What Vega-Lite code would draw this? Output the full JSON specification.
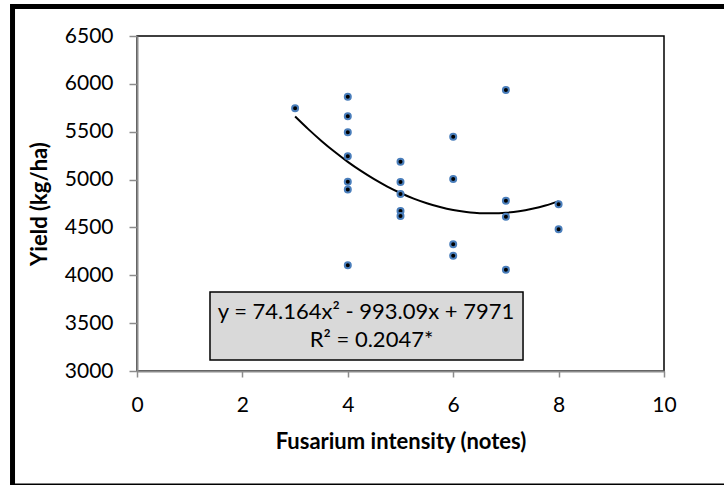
{
  "$schema": "https://vega.github.io/schema/vega-lite/v6.json",
  "width": 527,
  "height": 335,
  "autosize": {"type": "none"},
  "padding": {"left": 137, "top": 36, "right": 60, "bottom": 114},
  "background": "white",
  "config": {
    "font": "Lato",
    "view": {"stroke": "#000000", "strokeWidth": 1.5},
    "axis": {
      "domainColor": "#8c8c8c",
      "domainWidth": 2,
      "tickColor": "#8c8c8c",
      "tickWidth": 1.5,
      "grid": false,
      "labelFont": "Lato",
      "labelFontSize": 21,
      "labelColor": "#000000",
      "titleFont": "Lato",
      "titleFontSize": 22,
      "titleFontWeight": "bold",
      "titleColor": "#000000"
    }
  },
  "datasets": {
    "points": [
      {"notes": 3, "yield": 5744},
      {"notes": 4, "yield": 5866},
      {"notes": 4, "yield": 5661},
      {"notes": 4, "yield": 5494},
      {"notes": 4, "yield": 5243},
      {"notes": 4, "yield": 4978},
      {"notes": 4, "yield": 4895},
      {"notes": 4, "yield": 4104},
      {"notes": 5, "yield": 5187},
      {"notes": 5, "yield": 4975},
      {"notes": 5, "yield": 4849},
      {"notes": 5, "yield": 4672},
      {"notes": 5, "yield": 4619},
      {"notes": 6, "yield": 5448},
      {"notes": 6, "yield": 5006},
      {"notes": 6, "yield": 4323},
      {"notes": 6, "yield": 4205},
      {"notes": 7, "yield": 5936},
      {"notes": 7, "yield": 4780},
      {"notes": 7, "yield": 4612},
      {"notes": 7, "yield": 4059},
      {"notes": 8, "yield": 4741},
      {"notes": 8, "yield": 4480}
    ],
    "trend": [
      {"notes": 3, "yield": 5659},
      {"notes": 3.25, "yield": 5527},
      {"notes": 3.5, "yield": 5404},
      {"notes": 3.75, "yield": 5290},
      {"notes": 4, "yield": 5185},
      {"notes": 4.25, "yield": 5090},
      {"notes": 4.5, "yield": 5004},
      {"notes": 4.75, "yield": 4927},
      {"notes": 5, "yield": 4860},
      {"notes": 5.25, "yield": 4801},
      {"notes": 5.5, "yield": 4753},
      {"notes": 5.75, "yield": 4713},
      {"notes": 6, "yield": 4682},
      {"notes": 6.25, "yield": 4661},
      {"notes": 6.5, "yield": 4649},
      {"notes": 6.75, "yield": 4647},
      {"notes": 7, "yield": 4653},
      {"notes": 7.25, "yield": 4669},
      {"notes": 7.5, "yield": 4695},
      {"notes": 7.75, "yield": 4729},
      {"notes": 8, "yield": 4773}
    ],
    "box": [
      {"x1": 1.385, "x2": 7.325, "y1": 3115, "y2": 3825}
    ],
    "labels": [
      {"x": 4.345, "y": 3616, "text": "y = 74.164x² - 993.09x + 7971"},
      {"x": 4.45, "y": 3324, "text": "R² = 0.2047*"}
    ]
  },
  "layer": [
    {
      "data": {"values": [{}]},
      "mark": {"type": "rect", "fill": null, "stroke": "#000000", "strokeWidth": 5, "clip": false},
      "encoding": {
        "x": {"datum": -2.362, "type": "quantitative", "scale": {"domain": [0, 10]}},
        "x2": {"datum": 11.2},
        "y": {"datum": 6808, "type": "quantitative", "scale": {"domain": [3000, 6500]}},
        "y2": {"datum": 1798}
      }
    },
    {
      "data": {"name": "box"},
      "mark": {"type": "rect", "fill": "#d9d9d9", "stroke": "#000000", "strokeWidth": 1.5},
      "encoding": {
        "x": {"field": "x1", "type": "quantitative", "scale": {"domain": [0, 10]}},
        "x2": {"field": "x2"},
        "y": {"field": "y1", "type": "quantitative", "scale": {"domain": [3000, 6500]}},
        "y2": {"field": "y2"}
      }
    },
    {
      "data": {"name": "labels"},
      "mark": {"type": "text", "font": "Lato", "fontSize": 22, "color": "#000000", "align": "center", "baseline": "middle"},
      "encoding": {
        "x": {"field": "x", "type": "quantitative"},
        "y": {"field": "y", "type": "quantitative"},
        "text": {"field": "text"}
      }
    },
    {
      "data": {"name": "trend"},
      "mark": {"type": "line", "color": "#000000", "strokeWidth": 2, "interpolate": "monotone"},
      "encoding": {
        "x": {"field": "notes", "type": "quantitative"},
        "y": {"field": "yield", "type": "quantitative"}
      }
    },
    {
      "data": {"name": "points"},
      "mark": {"type": "point", "shape": "circle", "filled": true, "fill": "#000000", "stroke": "#4a7ebb", "strokeWidth": 2, "size": 36, "opacity": 1},
      "encoding": {
        "x": {
          "field": "notes",
          "type": "quantitative",
          "scale": {"domain": [0, 10], "nice": false, "zero": false},
          "axis": {"title": "Fusarium intensity (notes)", "values": [0, 2, 4, 6, 8, 10], "tickSize": 6, "labelPadding": 17, "titlePadding": 16, "labelFlush": false}
        },
        "y": {
          "field": "yield",
          "type": "quantitative",
          "scale": {"domain": [3000, 6500], "nice": false, "zero": false},
          "axis": {"title": "Yield (kg/ha)", "values": [3000, 3500, 4000, 4500, 5000, 5500, 6000, 6500], "tickSize": 8, "labelPadding": 16, "titlePadding": 13, "labelFlush": false, "format": "d"}
        }
      }
    }
  ]
}
